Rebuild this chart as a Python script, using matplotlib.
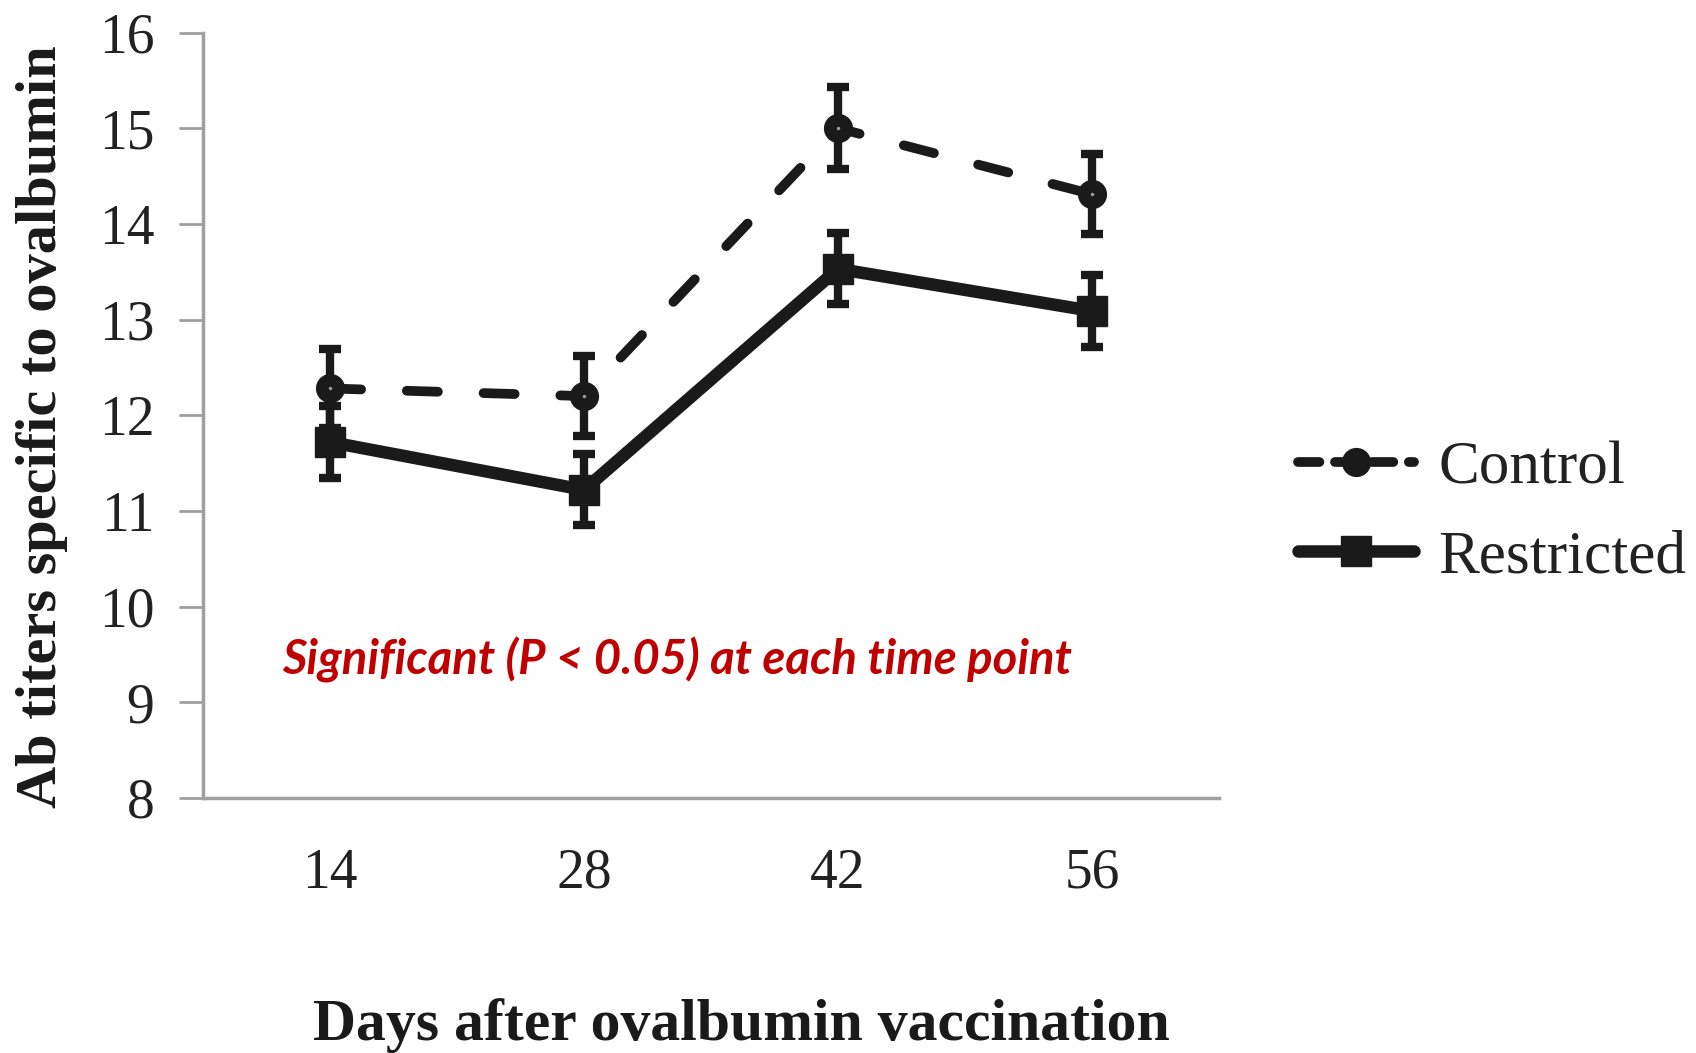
import matplotlib.pyplot as plt
from matplotlib.lines import Line2D
import numpy as np

plt.rcParams['font.family'] = ['Liberation Serif', 'DejaVu Serif']

days = ['14', '28', '42', '56']
control = [12.28, 12.20, 15.00, 14.31]
control_err = [0.41, 0.42, 0.43, 0.42]
restricted = [11.72, 11.22, 13.53, 13.09]
restricted_err = [0.38, 0.37, 0.37, 0.38]

x = np.arange(len(days))
ink = '#1a1a1a'

fig = plt.figure(figsize=(16.96, 10.53), dpi=100)
ax = fig.add_axes([0.1197, 0.2422, 0.5991, 0.7269])

# error bars first, then the lines and markers over them
ax.errorbar(x, control, yerr=control_err, fmt='none', ecolor=ink,
            elinewidth=6, capsize=8, capthick=6, zorder=2)
ax.errorbar(x, restricted, yerr=restricted_err, fmt='none', ecolor=ink,
            elinewidth=6, capsize=8, capthick=6, zorder=2)

ax.plot(x, control, color=ink, lw=7, ls=(0, (3.2, 4.7)),
        dash_capstyle='round', marker='o', ms=20, mfc=ink, mec=ink, zorder=3)
ax.plot(x, control, ls='none', marker='.', ms=3, color='#999999', zorder=4)
ax.plot(x, restricted, color=ink, lw=9, solid_capstyle='round',
        marker='s', ms=21, mfc=ink, mec=ink, zorder=3)

ax.set_xlim(-0.5, 3.5)
ax.set_ylim(8, 16)
ax.set_xticks(x)
ax.set_xticklabels(days)
ax.set_yticks(np.arange(8, 17, 1))
ax.tick_params(axis='y', length=17, width=2, color='#a0a0a0', labelsize=40,
               pad=18, labelcolor='#222222')
ax.tick_params(axis='x', length=0, labelsize=40, pad=36, labelcolor='#222222')

for side in ['top', 'right']:
    ax.spines[side].set_visible(False)
for side in ['left', 'bottom']:
    ax.spines[side].set_color('#a0a0a0')
    ax.spines[side].set_linewidth(2.5)

fig.text(0.025, 0.595, 'Ab titers specific to ovalbumin', rotation=90,
         fontsize=42, fontweight='bold', ha='center', va='center',
         color=ink)
fig.text(0.437, 0.026, 'Days after ovalbumin vaccination', fontsize=43,
         fontweight='bold', ha='center', va='center', color=ink)

fig.text(0.3991, 0.373, 'Significant (P < 0.05) at each time point',
         family='Lato', style='italic', fontweight='bold', fontsize=34,
         color='#C00000', ha='center', va='center')

handles = [
    Line2D([], [], color=ink, lw=7, dash_capstyle='round',
           ls=(0, (2.2, 1.6)), marker='o', ms=20, mfc=ink, mec=ink),
    Line2D([], [], color=ink, lw=9, solid_capstyle='round',
           marker='s', ms=21, mfc=ink, mec=ink),
]
fig.legend(handles, ['Control', 'Restricted'], loc='center left',
           bbox_to_anchor=(0.751, 0.513), frameon=False, fontsize=44,
           handlelength=1.9, handletextpad=0.4, labelspacing=0.55,
           borderaxespad=0, labelcolor='#222222')

fig.savefig('out.png', dpi=100)
